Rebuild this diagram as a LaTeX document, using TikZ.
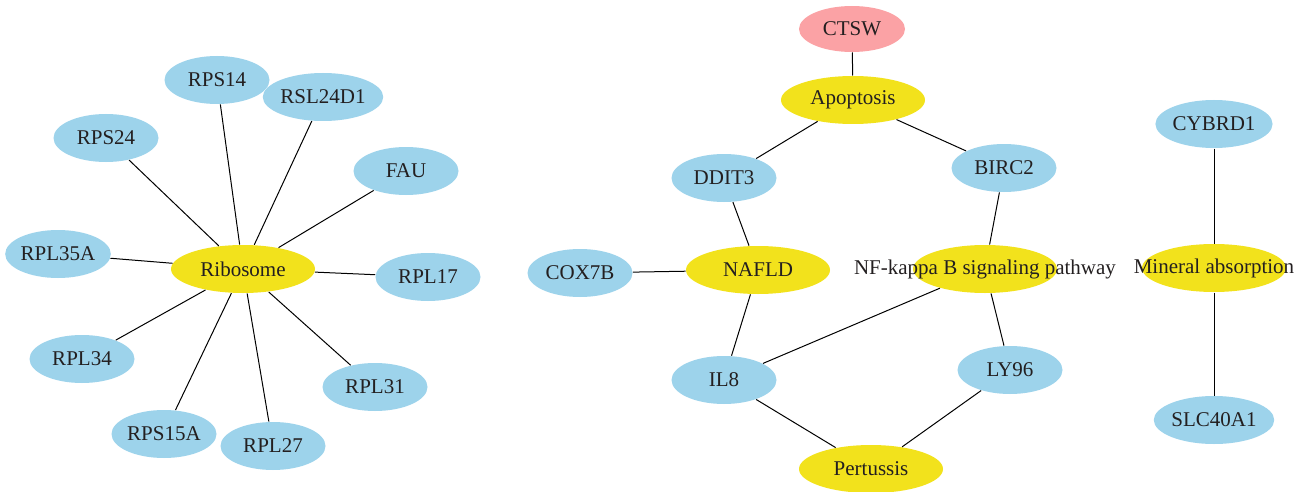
\documentclass[tikz,border=0pt]{standalone}
\usepackage{fontspec}
\setmainfont{Liberation Serif}
\usetikzlibrary{shapes.geometric}
\definecolor{genecol}{HTML}{9DD3EB}
\definecolor{pathcol}{HTML}{F2E21C}
\definecolor{drugcol}{HTML}{FBA2A5}
\definecolor{inkcol}{HTML}{231F20}
\tikzset{every picture/.style={line width=0.5pt}}

\begin{document}
\begin{tikzpicture}[x=0.5pt, y=-0.5pt,
		every node/.style={shape=ellipse, inner sep=0pt, font=\fontsize{10.5}{12}\selectfont, text=inkcol},
		gene/.style={fill=genecol, minimum width=52.5pt, minimum height=24pt},
		pathway/.style={fill=pathcol, minimum width=72pt, minimum height=24pt},
		target/.style={fill=drugcol, minimum width=53pt, minimum height=23pt}
	]
	\useasboundingbox (0,0) rectangle (1311,492);
	% ribosome cluster
	\node[pathway] (ribosome) at (243,269) {Ribosome};
	\node[gene] (rps14) at (217,80) {RPS14};
	\node[gene] (rsl24d1) at (323,97) {RSL24D1};
	\node[gene] (rps24) at (106,138) {RPS24};
	\node[gene] (fau) at (406,171) {FAU};
	\node[gene] (rpl35a) at (58,254) {RPL35A};
	\node[gene] (rpl17) at (428,277) {RPL17};
	\node[gene] (rpl34) at (82,359) {RPL34};
	\node[gene] (rpl31) at (375,387) {RPL31};
	\node[gene] (rps15a) at (164,434) {RPS15A};
	\node[gene] (rpl27) at (273,446) {RPL27};
	% middle cluster
	\node[target] (ctsw) at (852,29) {CTSW};
	\node[pathway] (apoptosis) at (853,100) {Apoptosis};
	\node[gene] (ddit3) at (724,178) {DDIT3};
	\node[gene] (birc2) at (1004,168) {BIRC2};
	\node[gene] (cox7b) at (580,273) {COX7B};
	\node[pathway] (nafld) at (758,270) {NAFLD};
	\node[pathway] (nfkb) at (985,269) {\makebox[0pt]{NF-kappa B signaling pathway}};
	\node[gene] (il8) at (724,380) {IL8};
	\node[gene] (ly96) at (1010,370) {LY96};
	\node[pathway] (pertussis) at (871,469) {Pertussis};
	% mineral absorption
	\node[gene] (cybrd1) at (1214,124) {CYBRD1};
	\node[pathway] (mineral) at (1214,268) {\makebox[0pt]{Mineral absorption}};
	\node[gene] (slc40a1) at (1214,420) {SLC40A1};

	\foreach \g in {rps14,rsl24d1,rps24,fau,rpl35a,rpl17,rpl34,rpl31,rps15a,rpl27}
		\draw (ribosome) -- (\g);
	\draw (ctsw) -- (apoptosis);
	\draw (apoptosis) -- (ddit3);
	\draw (apoptosis) -- (birc2);
	\draw (ddit3) -- (nafld);
	\draw (cox7b) -- (nafld);
	\draw (nafld) -- (il8);
	\draw (birc2) -- (nfkb);
	\draw (nfkb) -- (il8);
	\draw (nfkb) -- (ly96);
	\draw (il8) -- (pertussis);
	\draw (ly96) -- (pertussis);
	\draw (cybrd1) -- (mineral);
	\draw (mineral) -- (slc40a1);
\end{tikzpicture}
\end{document}
